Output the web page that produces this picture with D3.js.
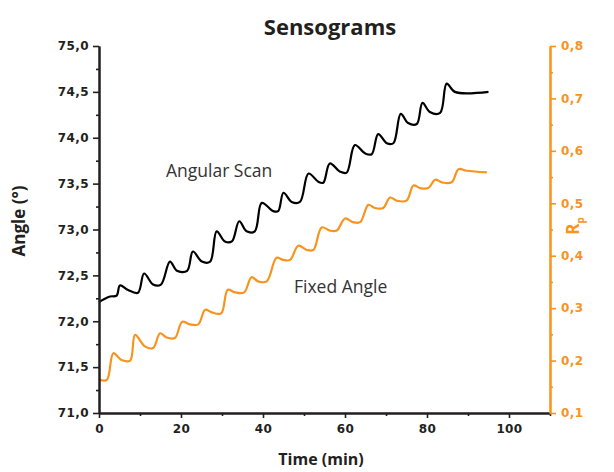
<!DOCTYPE html>
<html>
<head>
<meta charset="utf-8">
<script src="https://cdn.jsdelivr.net/npm/d3@7"></script>
<style>
  body { margin: 0; background: #fff; }
  svg { display: block; }
</style>
</head>
<body>
<svg width="614" height="472"></svg>
<script>
// Angular scan (left axis, degrees)
var scanTime  = [0, 1.2, 2.7, 4.3, 5.1, 7.1, 9.5, 11.0, 13.2, 15.1, 17.3, 19.0, 21.5, 22.9, 25.1, 27.1,
                 28.7, 30.7, 32.4, 34.2, 36.0, 38.0, 39.7, 42.5, 43.7, 45.0, 47.0, 49.0, 51.1, 53.5, 54.7,
                 56.3, 58.8, 60.4, 62.4, 64.9, 66.5, 68.1, 70.2, 71.8, 73.6, 75.4, 77.5, 78.9, 80.7, 83.2,
                 84.8, 86.8, 95.0];
var scanAngle = [72.21, 72.24, 72.27, 72.28, 72.39, 72.34, 72.31, 72.52, 72.40, 72.40, 72.65, 72.55, 72.55, 72.76, 72.65, 72.65,
                 72.98, 72.87, 72.87, 73.09, 72.98, 72.98, 73.29, 73.20, 73.20, 73.40, 73.30, 73.30, 73.61, 73.52, 73.51,
                 73.72, 73.63, 73.62, 73.92, 73.83, 73.82, 74.04, 73.94, 73.94, 74.26, 74.16, 74.15, 74.38, 74.28, 74.27,
                 74.59, 74.50, 74.50];

// Fixed angle (right axis, Rp)
var fixedTime = [0, 1.9, 3.5, 5.5, 7.6, 8.8, 11.2, 13.2, 14.9, 16.5, 18.5, 20.3, 22.2, 24.2, 25.9, 27.5, 29.8,
                 31.4, 33.2, 35.4, 37.2, 38.8, 40.9, 43.3, 44.9, 46.6, 48.6, 50.7, 52.3, 54.3, 56.3, 58.0,
                 60.0, 62.0, 63.7, 65.7, 67.3, 69.3, 71.0, 72.6, 75.0, 76.7, 78.3, 80.3, 82.0, 83.6, 86.0,
                 87.7, 89.7, 94.6];
var fixedRp   = [0.164, 0.163, 0.214, 0.201, 0.200, 0.249, 0.227, 0.224, 0.252, 0.244, 0.243, 0.274, 0.269, 0.269, 0.297, 0.292, 0.290,
                 0.335, 0.330, 0.330, 0.359, 0.351, 0.351, 0.396, 0.392, 0.392, 0.419, 0.411, 0.411, 0.454, 0.448, 0.448,
                 0.471, 0.464, 0.464, 0.497, 0.491, 0.491, 0.511, 0.505, 0.505, 0.534, 0.529, 0.529, 0.545, 0.540, 0.540,
                 0.565, 0.562, 0.559];

var xTicks      = [0, 20, 40, 60, 80, 100];
var xMinor      = [10, 30, 50, 70, 90, 110];
var angleTicks  = [71.0, 71.5, 72.0, 72.5, 73.0, 73.5, 74.0, 74.5, 75.0];
var angleMinor  = [71.25, 71.75, 72.25, 72.75, 73.25, 73.75, 74.25, 74.75];
var rpTicks     = [0.1, 0.2, 0.3, 0.4, 0.5, 0.6, 0.7, 0.8];
var rpMinor     = [0.15, 0.25, 0.35, 0.45, 0.55, 0.65, 0.75];

var svg = d3.select("svg");
var margin = {left: 99, right: 64, top: 46, bottom: 59};
var width = 614 - margin.left - margin.right;
var height = 472 - margin.top - margin.bottom;
var orange = "#f7931e";
var axisCol = "#231f20";
var tickFont = "'DejaVu Sans', sans-serif";
var labelFont = "'Open Sans', 'Noto Sans', sans-serif";

var g = svg.append("g").attr("transform", "translate(" + margin.left + "," + margin.top + ")");

var x = d3.scaleLinear().domain([0, 110]).range([0, width]);
var yL = d3.scaleLinear().domain([71, 75]).range([height, 0]);
var yR = d3.scaleLinear().domain([0.1, 0.8]).range([height, 0]);

var comma = function(d) { return d3.format(".1f")(d).replace(".", ","); };

function styleAxis(sel, col) {
    sel.select(".domain").attr("stroke", col).attr("stroke-width", 2);
    sel.selectAll(".tick line").attr("stroke", col).attr("stroke-width", 1.6);
    sel.selectAll("text").attr("fill", col)
        .style("font-family", tickFont).style("font-weight", "bold").style("font-size", "12px")
        .style("letter-spacing", "0.4px");
}

// series
var scanLine = d3.line()
    .x(function(d, i) { return x(scanTime[i]); })
    .y(function(d) { return yL(d); })
    .curve(d3.curveCatmullRom.alpha(0.5));
var fixedLine = d3.line()
    .x(function(d, i) { return x(fixedTime[i]); })
    .y(function(d) { return yR(d); })
    .curve(d3.curveCatmullRom.alpha(0.5));

g.append("path").datum(fixedRp)
    .attr("d", fixedLine).attr("fill", "none")
    .attr("stroke", orange).attr("stroke-width", 2.2).attr("stroke-linejoin", "round");
g.append("path").datum(scanAngle)
    .attr("d", scanLine).attr("fill", "none")
    .attr("stroke", "#000").attr("stroke-width", 2.2).attr("stroke-linejoin", "round");

// axes: minor first, then major
g.append("g").attr("transform", "translate(0," + height + ")")
    .call(d3.axisBottom(x).tickValues(xMinor).tickSize(3).tickFormat("").tickSizeOuter(0))
    .call(styleAxis, axisCol);
g.append("g").attr("transform", "translate(0," + height + ")")
    .call(d3.axisBottom(x).tickValues(xTicks).tickSize(5).tickPadding(6).tickSizeOuter(0))
    .call(styleAxis, axisCol);

g.append("g")
    .call(d3.axisLeft(yL).tickValues(angleMinor).tickSize(3).tickFormat("").tickSizeOuter(0))
    .call(styleAxis, axisCol);
g.append("g")
    .call(d3.axisLeft(yL).tickValues(angleTicks).tickSize(6).tickPadding(4).tickFormat(comma).tickSizeOuter(0))
    .call(styleAxis, axisCol);

g.append("g").attr("transform", "translate(" + width + ",0)")
    .call(d3.axisRight(yR).tickValues(rpMinor).tickSize(3).tickFormat("").tickSizeOuter(0))
    .call(styleAxis, orange);
g.append("g").attr("transform", "translate(" + width + ",0)")
    .call(d3.axisRight(yR).tickValues(rpTicks).tickSize(6).tickPadding(5).tickFormat(comma).tickSizeOuter(0))
    .call(styleAxis, orange);

// titles
svg.append("text").attr("x", 330).attr("y", 35)
    .attr("text-anchor", "middle")
    .style("font-family", labelFont).style("font-weight", "bold").style("font-size", "22px")
    .attr("fill", axisCol).text("Sensograms");

svg.append("text").attr("x", 321).attr("y", 465)
    .attr("text-anchor", "middle")
    .style("font-family", labelFont).style("font-weight", "bold").style("font-size", "16px")
    .attr("fill", axisCol).text("Time (min)");

svg.append("text").attr("transform", "translate(25,221) rotate(-90)")
    .attr("text-anchor", "middle")
    .style("font-family", labelFont).style("font-weight", "bold").style("font-size", "17px")
    .attr("fill", axisCol).text("Angle (°)");

var rp = svg.append("text").attr("transform", "translate(579,226) rotate(-90)")
    .attr("text-anchor", "middle")
    .style("font-family", labelFont).style("font-weight", "bold").style("font-size", "17px")
    .attr("fill", orange);
rp.append("tspan").text("R");
rp.append("tspan").attr("dy", 5).style("font-size", "10px").text("p");

// series labels
svg.append("text").attr("x", 166).attr("y", 177)
    .style("font-family", labelFont).style("font-size", "17.5px")
    .attr("fill", "#333").text("Angular Scan");
svg.append("text").attr("x", 294).attr("y", 293)
    .style("font-family", labelFont).style("font-size", "17.5px")
    .attr("fill", "#333").text("Fixed Angle");
</script>
</body>
</html>
